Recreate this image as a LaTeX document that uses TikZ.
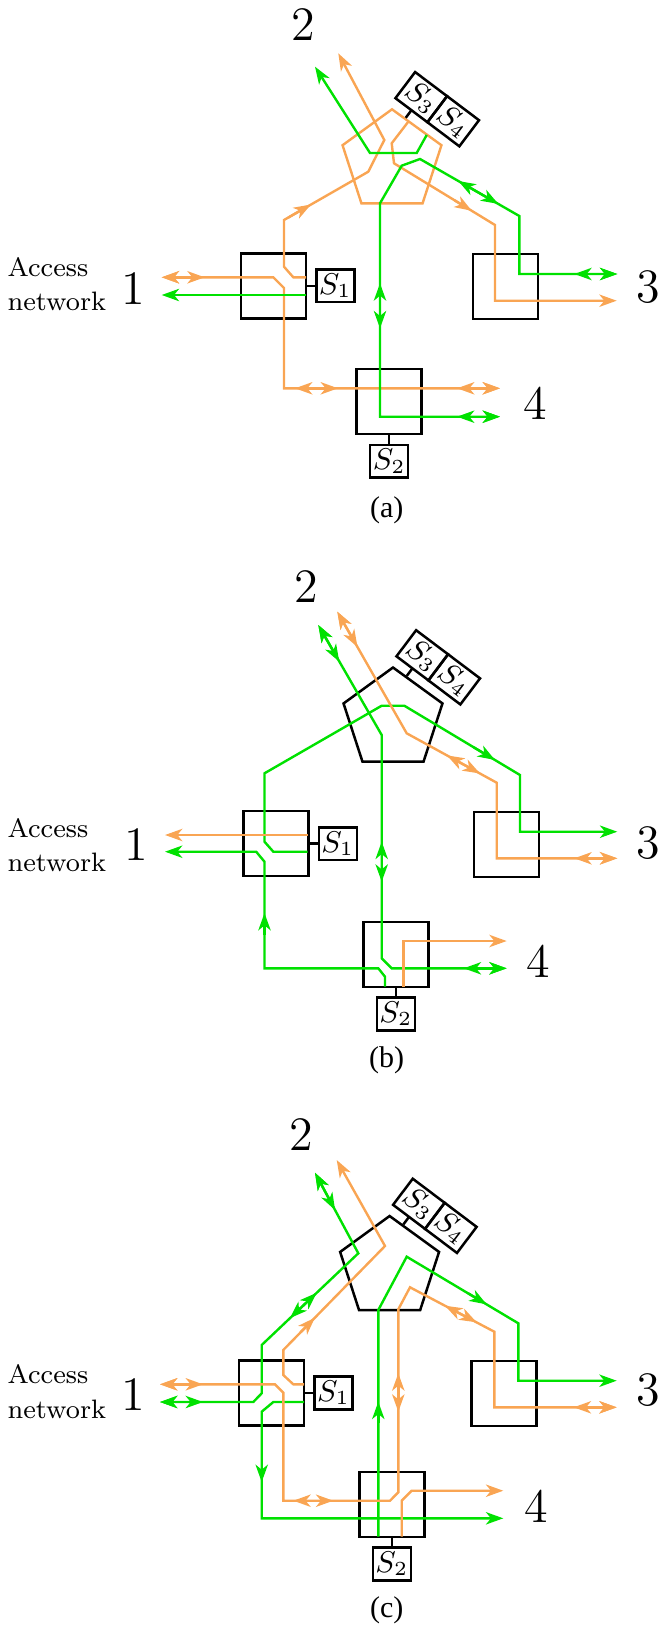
\documentclass[tikz,border=0pt]{standalone}
\usepackage{fontspec}
\newfontfamily\capfont{Liberation Serif}
\usepackage{tikz}
\usetikzlibrary{shapes.geometric, arrows.meta, positioning, calc}
\definecolor{wgreen}{HTML}{00E100}
\definecolor{worange}{HTML}{F9A553}

\begin{document}
\begin{tikzpicture}[x=0.3pt, y=-0.3pt,
        >={Stealth[length=5.2pt, width=3.7pt, inset=1.5pt]},
        sw/.style={draw, line width=0.75pt, minimum size=19.5pt, inner sep=0},
        sbox/.style={draw, line width=0.75pt, minimum width=11.4pt, minimum height=9.8pt, inner sep=0, outer sep=0, font=\fontsize{8.6}{10}\selectfont},
        pent/.style={regular polygon, regular polygon sides=5, minimum size=31.2pt, inner sep=0, draw, line width=0.75pt},
        port/.style={font=\fontsize{14.4}{16}\selectfont, inner sep=0},
        acc/.style={font=\fontsize{8}{10.3}\selectfont, align=left, anchor=west, inner sep=0},
        subcap/.style={font={\capfont\fontsize{9}{10}\selectfont}, inner sep=0},
        tie/.style={line width=0.75pt},
        og/.style={worange, line width=0.72pt},
        gn/.style={wgreen, line width=0.72pt}
    ]
    \useasboundingbox (0,0) rectangle (660,1628);

    % (a)
    \node[sw] (la) at (273.5,285.8) {};
    \node[sbox, right=2.7pt of la] (s1a) {$S_1$};
    \node[sw] (ra) at (505.7,286.5) {};
    \node[sw] (ba) at (389.2,401.7) {};
    \node[sbox, below=2.8pt of ba] (s2a) {$S_2$};
    \node[pent, draw=worange, line width=0.72pt] (pa) at (392,161.3) {};
    \coordinate (ta) at ($(pa.corner 1)!0.27!(pa.corner 5)$);
    \node[sbox, minimum width=12pt, rotate=-37, anchor=south] (s3a) at ($(ta)+(5.7,-7.6)$) {$S_3$};
    \node[sbox, minimum width=12pt, rotate=-37, anchor=west] (s4a) at (s3a.east) {$S_4$};
    \draw[tie] (la) -- (s1a);
    \draw[tie] (ba) -- (s2a);
    \draw[tie] (ta) -- (s3a.south);
    \node[port] (n2a) at (303,25) {2};
    \node[port] (n1a) at (133.3,288.3) {1};
    \node[port] (n3a) at (648,286.7) {3};
    \node[port] (n4a) at (535,403.3) {4};
    \node[acc] (acca) at (7,284) {Access\\network};
    \node[subcap] (capa) at (386.7,510) {(a)};

    \draw[og,->] (306,277.3) -- (293.3,277.3) -- (284,266.7) -- (284,220) -- (368.3,171.7) -- (384.3,140) -- (338.3,53.3);
    \draw[og,->] (288.2,217.6) -- (311,204.5);
    \draw[og,<->] (161.7,277.3) -- (273.3,277.3) -- (284,288) -- (284,388.3) -- (500,388.3);
    \draw[og,<->] (161.7,277.3) -- (204.7,277.3);
    \draw[og,<->] (295,388.3) -- (338,388.3);
    \draw[og,<->] (457,388.3) -- (500,388.3);
    \draw[gn,->] (306,295) -- (161.7,295);
    \draw[og,->] (408.3,121.7) -- (391.7,143.3) -- (394,163.3) -- (495,225) -- (495,300.7) -- (616.7,300.7);
    \draw[og,->] (454.6,200.3) -- (471.8,210.8);
    \draw[gn,->] (426.7,135) -- (416.7,153) -- (370,153) -- (315,66.7);
    \draw[gn,<->] (617.3,274) -- (519.3,274) -- (519.3,216) -- (420,159) -- (401.7,165.7) -- (380,203.3) -- (380,416.7) -- (500,416.7);
    \draw[gn,<->] (574.3,274) -- (617.3,274);
    \draw[gn,<->] (458.3,181) -- (498.3,203.9);
    \draw[gn,<->] (380,283.3) -- (380,328.3);
    \draw[gn,<->] (457,416.7) -- (500,416.7);

    % (b)
    \node[sw] (lb) at (276,843.7) {};
    \node[sbox, right=2.7pt of lb] (s1b) {$S_1$};
    \node[sw] (rb) at (506.7,844.5) {};
    \node[sw] (bb) at (395.8,954.5) {};
    \node[sbox, below=2.8pt of bb] (s2b) {$S_2$};
    \node[pent] (pb) at (393,719.5) {};
    \coordinate (tb) at ($(pb.corner 1)!0.27!(pb.corner 5)$);
    \node[sbox, minimum width=12pt, rotate=-37, anchor=south] (s3b) at ($(tb)+(5.7,-7.6)$) {$S_3$};
    \node[sbox, minimum width=12pt, rotate=-37, anchor=west] (s4b) at (s3b.east) {$S_4$};
    \draw[tie] (lb) -- (s1b);
    \draw[tie] (bb) -- (s2b);
    \draw[tie] (tb) -- (s3b.south);
    \node[port] (n2b) at (306,586.7) {2};
    \node[port] (n1b) at (136,845) {1};
    \node[port] (n3b) at (648,843.3) {3};
    \node[port] (n4b) at (538.3,961.7) {4};
    \node[acc] (accb) at (7,845) {Access\\network};
    \node[subcap] (capb) at (386.7,1060) {(b)};

    \draw[gn,<->] (318.3,625) -- (381.7,735) -- (381.7,958.3) -- (391.7,968.3) -- (506.7,968.3);
    \draw[gn,<->] (318.3,625) -- (339.3,661.7);
    \draw[gn,<->] (381.7,841.7) -- (381.7,881.7);
    \draw[gn,<->] (463.7,968.3) -- (506.7,968.3);
    \draw[gn,->] (307.7,851.7) -- (273.3,851.7) -- (264.5,841.7) -- (264.5,773.3) -- (381.7,705.7) -- (404.3,705.7) -- (520,775) -- (520,831.7) -- (617.3,831.7);
    \draw[gn,->] (473.7,747.3) -- (495,760);
    \draw[gn,->] (385,986.7) -- (385,976.7) -- (378.3,968.3) -- (264.5,968.3) -- (264.5,861.7) -- (256.2,851.7) -- (165,851.7);
    \draw[gn,->] (264.5,935) -- (264.5,913);
    \draw[og,<->] (337.3,611.7) -- (406.7,733.3) -- (496.7,782.7) -- (496.7,858.3) -- (617.3,858.3);
    \draw[og,<->] (337.3,611.7) -- (357.5,647);
    \draw[og,<->] (447,755.4) -- (480,773.5);
    \draw[og,<->] (574.3,858.3) -- (617.3,858.3);
    \draw[og,->] (307.7,835) -- (165,835);
    \draw[og,->] (403.3,986.7) -- (403.3,941) -- (506.7,941);

    % (c)
    \node[sw] (lc) at (271.7,1392.9) {};
    \node[sbox, right=2.7pt of lc] (s1c) {$S_1$};
    \node[sw] (rc) at (504.2,1393.3) {};
    \node[sw] (bc) at (391.8,1504.5) {};
    \node[sbox, below=2.8pt of bc] (s2c) {$S_2$};
    \node[pent] (pc) at (389.6,1268) {};
    \coordinate (tc) at ($(pc.corner 1)!0.27!(pc.corner 5)$);
    \node[sbox, minimum width=12pt, rotate=-37, anchor=south] (s3c) at ($(tc)+(5.7,-7.6)$) {$S_3$};
    \node[sbox, minimum width=12pt, rotate=-37, anchor=west] (s4c) at (s3c.east) {$S_4$};
    \draw[tie] (lc) -- (s1c);
    \draw[tie] (bc) -- (s2c);
    \draw[tie] (tc) -- (s3c.south);
    \node[port] (n2c) at (301.7,1135) {2};
    \node[port] (n1c) at (133.3,1395) {1};
    \node[port] (n3c) at (648,1390) {3};
    \node[port] (n4c) at (536.7,1506.7) {4};
    \node[acc] (accc) at (7,1391.7) {Access\\network};
    \node[subcap] (capc) at (386.7,1610) {(c)};

    \draw[gn,<->] (315,1172.7) -- (358.3,1253.3) -- (261.7,1345) -- (261.7,1393.3) -- (253.3,1402) -- (160,1402);
    \draw[gn,<->] (315,1172.7) -- (335.1,1210.1);
    \draw[gn,<->] (316.7,1292.8) -- (290,1318.1);
    \draw[gn,<->] (160,1402) -- (203,1402);
    \draw[gn,->] (304,1402) -- (273.3,1402) -- (261.7,1411.7) -- (261.7,1518.3) -- (503.3,1518.3);
    \draw[gn,->] (261.7,1460) -- (261.7,1482);
    \draw[gn,->] (378.3,1536.7) -- (378.3,1310) -- (406.7,1256.7) -- (518.3,1323.3) -- (518.3,1380.7) -- (616.7,1380.7);
    \draw[gn,->] (378.3,1423) -- (378.3,1401.7);
    \draw[gn,->] (468.1,1293.3) -- (486.7,1304.4);
    \draw[og,->] (304,1384.3) -- (293.3,1384.3) -- (283.3,1375) -- (283.3,1350) -- (385,1246) -- (336.7,1160);
    \draw[og,->] (300.8,1332.1) -- (314.8,1317.8);
    \draw[og,<->] (160,1384.3) -- (275,1384.3) -- (283.3,1392.7) -- (283.3,1500.7) -- (390,1500.7) -- (398.3,1492.3) -- (398.3,1309.3) -- (410,1287.3) -- (494.3,1331.7) -- (494.3,1407.3) -- (616.7,1407.3);
    \draw[og,<->] (160,1384.3) -- (203,1384.3);
    \draw[og,<->] (293.3,1500.7) -- (333.3,1500.7);
    \draw[og,<->] (398.3,1373.3) -- (398.3,1411.7);
    \draw[og,<->] (445,1305.7) -- (476.7,1322.3);
    \draw[og,<->] (573.7,1407.3) -- (616.7,1407.3);
    \draw[og,->] (401.7,1536.7) -- (401.7,1500.7) -- (411.7,1490.7) -- (503.3,1490.7);
\end{tikzpicture}
\end{document}
